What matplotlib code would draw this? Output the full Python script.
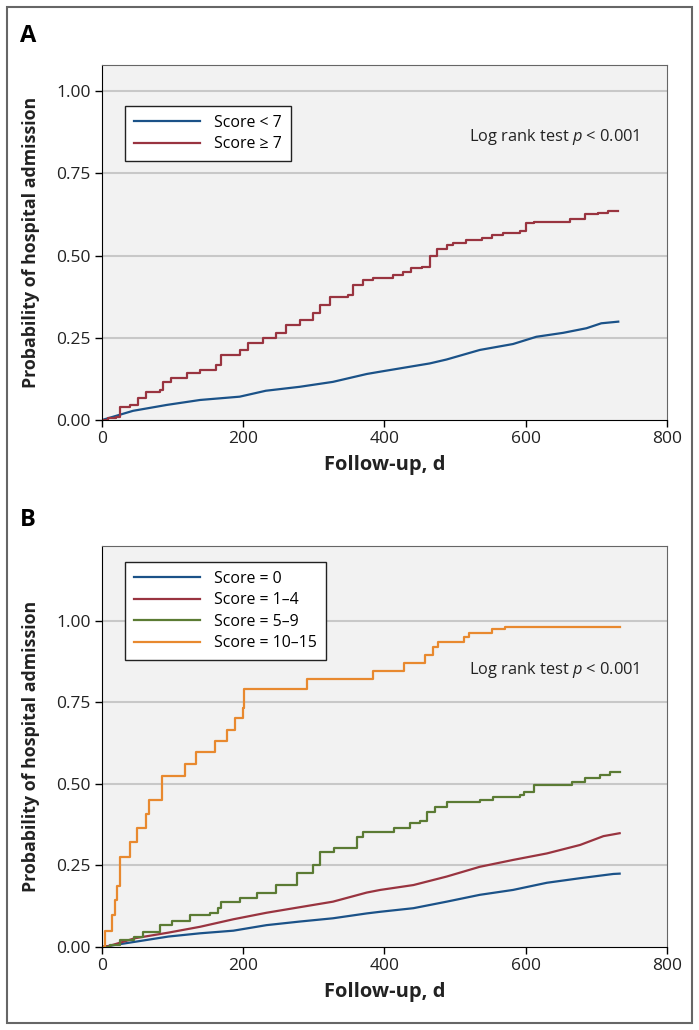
import matplotlib
matplotlib.use("Agg")
import matplotlib.pyplot as plt
from matplotlib.patches import Rectangle

plt.rcParams['font.family'] = ['Open Sans', 'DejaVu Sans']
plt.rcParams['mathtext.fontset'] = 'custom'
plt.rcParams['mathtext.it'] = 'Open Sans:italic'
plt.rcParams['mathtext.rm'] = 'Open Sans'

# panel A: score < 7 / score >= 7 (days, cumulative probability)
a_low_t = [0, 44, 92, 139, 195, 232, 280, 327, 375, 394, 464, 488, 535, 582, 615, 653, 686, 707, 731]
a_low_p = [0, 0.028, 0.046, 0.061, 0.071, 0.089, 0.101, 0.116, 0.14, 0.147, 0.172, 0.184, 0.213,
           0.231, 0.253, 0.265, 0.279, 0.294, 0.299]

a_high_t = [0, 8, 20, 25, 40, 51, 63, 82, 87, 98, 120, 139, 162, 169, 195, 207, 228, 247, 261, 280,
            299, 309, 323, 349, 356, 370, 384, 412, 426, 438, 453, 464, 474, 488, 497, 516, 538, 552,
            568, 592, 601, 611, 663, 684, 703, 717, 731]
a_high_p = [0, 0.005, 0.01, 0.04, 0.045, 0.068, 0.086, 0.09, 0.116, 0.127, 0.142, 0.152, 0.167, 0.198,
            0.213, 0.235, 0.248, 0.263, 0.289, 0.304, 0.324, 0.35, 0.375, 0.38, 0.41, 0.425, 0.433,
            0.44, 0.45, 0.461, 0.465, 0.50, 0.52, 0.532, 0.537, 0.547, 0.552, 0.562, 0.569, 0.574,
            0.598, 0.603, 0.611, 0.625, 0.63, 0.635, 0.635]

# panel B: four score groups
b0_t = [0, 47, 94, 139, 186, 233, 280, 327, 375, 394, 441, 488, 535, 582, 630, 677, 724, 733]
b0_p = [0, 0.016, 0.032, 0.042, 0.05, 0.067, 0.078, 0.088, 0.103, 0.108, 0.119, 0.139, 0.16, 0.175,
        0.197, 0.211, 0.224, 0.225]

b1_t = [0, 10, 47, 94, 139, 186, 233, 280, 327, 375, 394, 441, 488, 535, 582, 630, 677, 710, 733]
b1_p = [0, 0.003, 0.027, 0.044, 0.062, 0.085, 0.105, 0.122, 0.139, 0.167, 0.175, 0.19, 0.216, 0.246,
        0.267, 0.287, 0.313, 0.34, 0.349]

b2_t = [0, 12, 25, 45, 58, 82, 99, 125, 153, 164, 169, 195, 219, 247, 276, 299, 309, 328, 351, 361,
        370, 413, 436, 450, 460, 472, 488, 535, 554, 592, 597, 611, 665, 684, 705, 719, 733]
b2_p = [0, 0.005, 0.021, 0.03, 0.047, 0.067, 0.081, 0.098, 0.104, 0.119, 0.139, 0.151, 0.167, 0.19,
        0.226, 0.252, 0.292, 0.303, 0.305, 0.338, 0.354, 0.366, 0.381, 0.386, 0.415, 0.43, 0.446,
        0.451, 0.459, 0.465, 0.476, 0.497, 0.507, 0.517, 0.528, 0.536, 0.536]

b3_t = [0, 4.5, 14, 18, 21, 26, 40, 50, 62, 67, 84.5, 117.5, 133, 160, 177.5, 188, 199, 201, 290, 384,
        428, 457, 469, 476, 512, 519, 552, 571, 733]
b3_p = [0, 0.049, 0.098, 0.144, 0.188, 0.275, 0.321, 0.366, 0.408, 0.451, 0.525, 0.561, 0.597, 0.633,
        0.667, 0.701, 0.732, 0.791, 0.821, 0.847, 0.870, 0.896, 0.921, 0.937, 0.95, 0.964, 0.975,
        0.982, 0.982]

yticks = [0, 0.25, 0.5, 0.75, 1.0]
xticks = [0, 200, 400, 600, 800]

BLUE = '#1b5288'
RED = '#993440'
GREEN = '#5b7b34'
ORANGE = '#e8892f'
LW = 1.6

fig = plt.figure(figsize=(6.99, 10.30), dpi=100)
fig.patches.append(Rectangle((7 / 699, 1 - 1023 / 1030), 685 / 699, 1016 / 1030,
                             transform=fig.transFigure, fill=False, edgecolor='#666666', lw=1.5))

axA = fig.add_axes([0.1459, 0.5922, 0.8083, 0.3447])
axB = fig.add_axes([0.1459, 0.0806, 0.8083, 0.3893])


def style(ax, ytop):
    ax.set_facecolor('#f2f2f2')
    ax.set_xlim(0, 800)
    ax.set_ylim(0, ytop)
    ax.set_xticks(xticks)
    ax.set_yticks(yticks)
    ax.set_yticklabels(['%.2f' % v for v in yticks])
    for y in yticks[1:]:
        ax.axhline(y, color='#c8c8c8', lw=1.5, zorder=0)
    for s in ['top', 'right']:
        ax.spines[s].set_color('#666666')
    for s in ['left', 'bottom']:
        ax.spines[s].set_color('black')
    ax.tick_params(direction='out', length=5, width=1, labelsize=12.5, colors='#222222', pad=3)
    ax.tick_params(labelcolor='#222222', color='black')
    ax.set_xlabel('Follow-up, d', fontsize=14.5, fontweight='bold', color='#222222', labelpad=6)
    ax.set_ylabel('Probability of hospital admission', fontsize=12.8, fontweight='bold',
                  color='#222222', labelpad=12)


def legend(ax, anchor):
    leg = ax.legend(loc='upper left', bbox_to_anchor=anchor, borderaxespad=0,
                    fontsize=11.4, handlelength=4.2, fancybox=False, edgecolor='#222222',
                    framealpha=1, labelspacing=0.35, borderpad=0.55, handletextpad=0.9)
    leg.get_frame().set_linewidth(1)
    for line in leg.get_lines():
        line.set_linewidth(1.6)
    return leg


style(axA, 1.079)
axA.plot(a_low_t, a_low_p, color=BLUE, lw=LW, label='Score < 7')
axA.step(a_high_t, a_high_p, where='post', color=RED, lw=LW, label='Score \u2265 7')
legend(axA, (0.0407, 0.8845))
axA.text(0.952, 0.797, 'Log rank test $p$ < 0.001', transform=axA.transAxes, ha='right',
         va='center', fontsize=11.8, color='#222222')

style(axB, 1.23)
axB.plot(b0_t, b0_p, color=BLUE, lw=LW, label='Score = 0')
axB.plot(b1_t, b1_p, color=RED, lw=LW, label='Score = 1\u20134')
axB.step(b2_t, b2_p, where='post', color=GREEN, lw=LW, label='Score = 5\u20139')
axB.step(b3_t, b3_p, where='post', color=ORANGE, lw=LW, label='Score = 10\u201315')
legend(axB, (0.0407, 0.960))
axB.text(0.952, 0.691, 'Log rank test $p$ < 0.001', transform=axB.transAxes, ha='right',
         va='center', fontsize=11.8, color='#222222')

fig.text(20 / 699, 1 - 36 / 1030, 'A', fontsize=17, fontweight='bold', va='center', ha='left')
fig.text(20 / 699, 1 - 520 / 1030, 'B', fontsize=17, fontweight='bold', va='center', ha='left')

fig.savefig('out.png', dpi=100)
